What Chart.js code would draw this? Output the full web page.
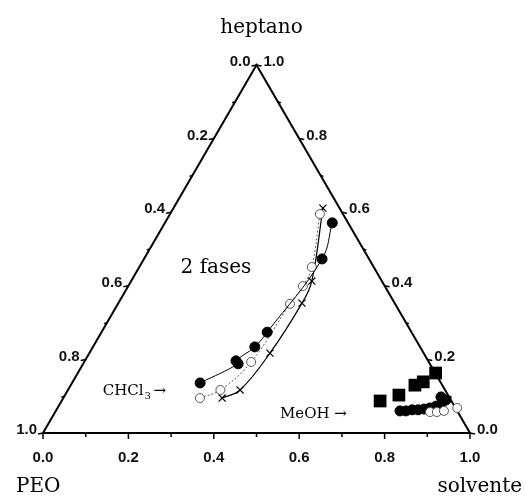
<!DOCTYPE html>
<html>
<head>
<meta charset="utf-8">
<script src="https://cdn.jsdelivr.net/npm/chart.js@4.4.1/dist/chart.umd.min.js"></script>
<style>
  html, body { margin: 0; padding: 0; background: #fff; }
  #wrap { width: 526px; height: 500px; }
</style>
</head>
<body>
<div id="wrap"><canvas id="ternary" width="526" height="500"></canvas></div>
<script>
// ===== PEO / heptano / solvente ternary diagram =====

const SQ = Math.sqrt(3) / 2;

// tick values for the three edges
const majorTicks = [0.0, 0.2, 0.4, 0.6, 0.8, 1.0];
const minorTicks = [0.1, 0.3, 0.5, 0.7, 0.9];

// CHCl3 system (fractions: solvente, heptano)
const chcl3FilledSolv = [0.300, 0.363, 0.354, 0.379, 0.388, 0.417, 0.392];
const chcl3FilledHept = [0.136, 0.188, 0.196, 0.234, 0.274, 0.473, 0.571];
const chcl3OpenSolv = [0.320, 0.357, 0.391, 0.403, 0.409, 0.404, 0.351];
const chcl3OpenHept = [0.095, 0.117, 0.193, 0.351, 0.399, 0.451, 0.595];
const chcl3CrossSolv = [0.372, 0.403, 0.423, 0.430, 0.423, 0.350];
const chcl3CrossHept = [0.095, 0.117, 0.217, 0.353, 0.413, 0.611];

// MeOH system
const meohSquareSolv = [0.746, 0.782, 0.806, 0.821, 0.838];
const meohSquareHept = [0.087, 0.103, 0.130, 0.139, 0.163];
const meohFilledSolv = [0.806, 0.820, 0.833, 0.847, 0.860, 0.872, 0.884, 0.893, 0.899, 0.883];
const meohFilledHept = [0.060, 0.060, 0.063, 0.063, 0.065, 0.068, 0.073, 0.082, 0.090, 0.098];
const meohOpenSolv = [0.878, 0.894, 0.909, 0.936];
const meohOpenHept = [0.057, 0.057, 0.060, 0.068];

// ternary (solvente, heptano) -> cartesian
function toXY(s, h) {
  return { x: s + h / 2, y: h * SQ };
}
function pts(solv, hept) {
  return solv.map((s, i) => toXY(s, hept[i]));
}

const SERIF = "'DejaVu Serif', 'Liberation Serif', serif";
const SANS = "'Liberation Sans', Arial, sans-serif";

// axes, ticks and text drawn on top of the scales
const ternaryAxes = {
  id: 'ternaryAxes',
  afterDatasetsDraw(chart) {
    const ctx = chart.ctx;
    const sx = chart.scales.x, sy = chart.scales.y;
    const px = p => ({ x: sx.getPixelForValue(p.x), y: sy.getPixelForValue(p.y) });

    ctx.save();
    ctx.strokeStyle = '#000';
    ctx.fillStyle = '#111';
    ctx.lineWidth = 1.5;

    // bottom edge: solvente fraction
    const tick = (vals, len, fn) => vals.forEach(v => fn(v, len));
    const bottom = (v, len) => {
      const p = px(toXY(v, 0));
      ctx.beginPath(); ctx.moveTo(p.x, p.y); ctx.lineTo(p.x, p.y + len); ctx.stroke();
    };
    const left = (v, len) => {
      const p = px(toXY(0, 1 - v));
      ctx.beginPath(); ctx.moveTo(p.x, p.y); ctx.lineTo(p.x - len, p.y + 1); ctx.stroke();
    };
    const right = (v, len) => {
      const p = px(toXY(1 - v, v));
      ctx.beginPath(); ctx.moveTo(p.x, p.y); ctx.lineTo(p.x + len, p.y + 1); ctx.stroke();
    };
    tick(majorTicks, 6, bottom); tick(minorTicks, 4, bottom);
    tick(majorTicks, 5, left); tick(minorTicks, 3, left);
    tick(majorTicks, 5, right); tick(minorTicks, 3, right);

    ctx.font = 'bold 15px ' + SANS;
    ctx.textBaseline = 'middle';
    majorTicks.forEach(v => {
      const b = px(toXY(v, 0));
      ctx.textAlign = 'center';
      ctx.fillText(v.toFixed(1), b.x, b.y + 25);

      const l = px(toXY(0, 1 - v));
      ctx.textAlign = 'right';
      ctx.fillText(v.toFixed(1), l.x - 6, l.y - 3);

      const r = px(toXY(1 - v, v));
      ctx.textAlign = 'left';
      ctx.fillText(v.toFixed(1), r.x + 7, r.y - 3);
    });

    // vertex names
    ctx.fillStyle = '#000';
    ctx.font = '20px ' + SERIF;
    ctx.textBaseline = 'alphabetic';
    const top = px(toXY(0, 1));
    ctx.textAlign = 'center';
    ctx.fillText('heptano', top.x + 5, 33);
    ctx.textAlign = 'left';
    ctx.fillText('PEO', 16, 492);
    ctx.textAlign = 'right';
    ctx.fillText('solvente', 522, 492);

    // region label
    const f = px({ x: 0.405, y: 0.388 });
    ctx.textAlign = 'center';
    ctx.textBaseline = 'middle';
    ctx.fillText('2 fases', f.x, f.y);

    // system labels
    ctx.font = '15px ' + SERIF;
    ctx.textAlign = 'left';
    ctx.textBaseline = 'alphabetic';
    const c = px({ x: 0.140, y: 0.090 });
    ctx.fillText('CHCl', c.x, c.y);
    let w = ctx.measureText('CHCl').width;
    ctx.font = '10px ' + SERIF;
    ctx.fillText('3', c.x + w + 1, c.y + 4);
    ctx.font = '15px ' + SERIF;
    ctx.fillText('\u2192', c.x + w + 10, c.y);

    const m = px({ x: 0.555, y: 0.035 });
    ctx.fillText('MeOH \u2192', m.x, m.y);
    ctx.restore();
  }
};

const triangle = [toXY(0, 0), toXY(1, 0), toXY(0, 1), toXY(0, 0)];

new Chart(document.getElementById('ternary').getContext('2d'), {
  type: 'scatter',
  data: {
    datasets: [
      {
        label: 'MeOH open',
        data: pts(meohOpenSolv, meohOpenHept),
        pointStyle: 'circle', pointRadius: 4.5,
        backgroundColor: '#fff', borderColor: '#555', borderWidth: 1,
        showLine: false, clip: false
      },
      {
        label: 'MeOH filled',
        data: pts(meohFilledSolv, meohFilledHept),
        pointStyle: 'circle', pointRadius: 5,
        backgroundColor: '#000', borderColor: '#000', borderWidth: 1,
        showLine: false, clip: false
      },
      {
        label: 'MeOH squares',
        data: pts(meohSquareSolv, meohSquareHept),
        pointStyle: 'rect', pointRadius: 9,
        backgroundColor: '#000', borderColor: '#000', borderWidth: 0,
        showLine: false, clip: false
      },
      {
        label: 'CHCl3 filled',
        data: pts(chcl3FilledSolv, chcl3FilledHept),
        pointStyle: 'circle', pointRadius: 5,
        backgroundColor: '#000', borderColor: '#000', borderWidth: 1,
        showLine: true, tension: 0.4, clip: false
      },
      {
        label: 'CHCl3 open',
        data: pts(chcl3OpenSolv, chcl3OpenHept),
        pointStyle: 'circle', pointRadius: 4.5,
        backgroundColor: '#fff', borderColor: '#555', borderWidth: 1,
        borderDash: [2, 2],
        showLine: true, tension: 0.4, clip: false
      },
      {
        label: 'CHCl3 cross',
        data: pts(chcl3CrossSolv, chcl3CrossHept),
        pointStyle: 'crossRot', pointRadius: 5,
        backgroundColor: '#000', borderColor: '#000', borderWidth: 1.2,
        showLine: true, tension: 0.4, clip: false
      },
      {
        label: 'triangle',
        data: triangle,
        pointRadius: 0, borderColor: '#000', borderWidth: 2,
        showLine: true, tension: 0, clip: false
      }
    ]
  },
  options: {
    responsive: false,
    devicePixelRatio: 1,
    animation: false,
    layout: { padding: { left: 43, right: 56, top: 65, bottom: 67 } },
    plugins: { legend: { display: false }, tooltip: { enabled: false } },
    scales: {
      x: { type: 'linear', min: 0, max: 1, display: false },
      y: { type: 'linear', min: 0, max: SQ, display: false }
    }
  },
  plugins: [ternaryAxes]
});
</script>
</body>
</html>
